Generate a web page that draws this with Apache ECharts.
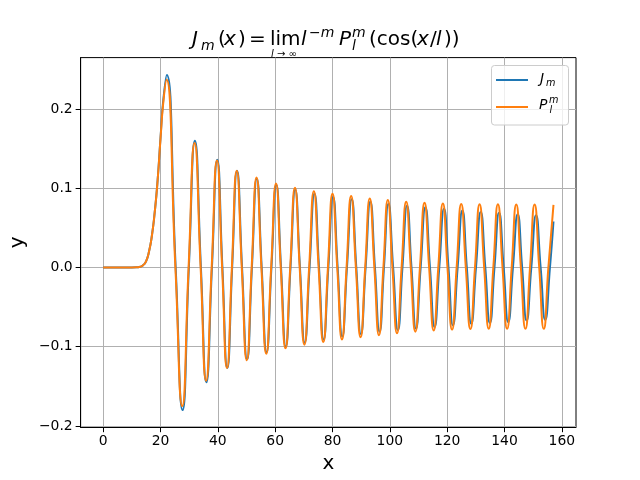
<!DOCTYPE html>
<html>
<head>
<meta charset="utf-8">
<script src="https://cdn.jsdelivr.net/npm/echarts@6/dist/echarts.min.js"></script>
<style>
html,body{margin:0;padding:0;background:#fff;}
#main{width:640px;height:480px;}
</style>
</head>
<body>
<div id="main"></div>
<script>
// J_m : rise from zero, then peaks / troughs / zero crossings
var jRestX = [0, 6, 10, 12, 13, 14, 15, 16, 17, 18, 19, 20, 21, 157.08];
var jRestY = [0, 0, 0, 0.0003, 0.001, 0.003, 0.008, 0.02, 0.04, 0.07, 0.11, 0.163, 0.212, 0.058];
var jPeakX = [22.2, 32.0, 39.8, 46.7, 53.6, 60.4, 67.0, 73.7, 80.2, 86.7, 93.2, 99.5, 106.0, 112.4, 118.9, 125.3, 131.7, 138.1, 144.6, 151.0];
var jPeakY = [0.243, 0.160, 0.136, 0.122, 0.112, 0.104, 0.098, 0.093, 0.089, 0.086, 0.083, 0.080, 0.078, 0.076, 0.074, 0.072, 0.070, 0.069, 0.067, 0.066];
var jTroughX = [27.7, 36.0, 43.3, 50.2, 57.0, 63.7, 70.3, 76.9, 83.4, 89.9, 96.4, 102.8, 109.1, 115.6, 122.0, 128.4, 134.9, 141.3, 147.7, 154.2];
var jTroughY = [-0.180, -0.145, -0.127, -0.116, -0.107, -0.100, -0.095, -0.091, -0.087, -0.084, -0.081, -0.079, -0.077, -0.075, -0.073, -0.071, -0.070, -0.069, -0.067, -0.066];
var jZeroX = [25.3, 29.9, 34.1, 37.95, 41.6, 45.0, 48.45, 51.9, 55.3, 58.7, 62.05, 65.35, 68.65, 72.0, 75.3, 78.55, 81.8, 85.05, 88.3, 91.55, 94.8, 97.95, 101.15, 104.4, 107.55, 110.75, 114.0, 117.25, 120.45, 123.65, 126.85, 130.05, 133.3, 136.5, 139.7, 142.95, 146.15, 149.35, 152.6, 155.85];

// P_l^m : same readings for the orange curve
var pRestX = [0, 6, 10, 12, 13, 14, 15, 16, 17, 18, 19, 20, 21, 157.08];
var pRestY = [0, 0, 0, 0.0003, 0.001, 0.003, 0.008, 0.02, 0.04, 0.07, 0.11, 0.162, 0.209, 0.079];
var pPeakX = [22.1, 31.9, 39.7, 46.6, 53.5, 60.3, 66.9, 73.5, 80.0, 86.5, 93.0, 99.3, 105.7, 112.1, 118.5, 124.9, 131.3, 137.7, 144.1, 150.5];
var pPeakY = [0.237, 0.157, 0.135, 0.122, 0.1135, 0.106, 0.1005, 0.096, 0.093, 0.090, 0.087, 0.085, 0.083, 0.0815, 0.0806, 0.0800, 0.0797, 0.0797, 0.0795, 0.0795];
var pTroughX = [27.6, 35.9, 43.2, 50.1, 56.9, 63.6, 70.2, 76.8, 83.3, 89.8, 96.2, 102.5, 108.9, 115.3, 121.7, 128.1, 134.5, 140.9, 147.3, 153.7];
var pTroughY = [-0.175, -0.143, -0.127, -0.117, -0.109, -0.102, -0.0975, -0.094, -0.091, -0.088, -0.0855, -0.083, -0.081, -0.0795, -0.0785, -0.0778, -0.0775, -0.0775, -0.0775, -0.0775];
var pZeroX = [25.2, 29.8, 34.0, 37.85, 41.5, 44.9, 48.35, 51.8, 55.2, 58.6, 61.95, 65.25, 68.55, 71.85, 75.15, 78.4, 81.65, 84.9, 88.15, 91.4, 94.6, 97.75, 100.9, 104.1, 107.3, 110.5, 113.7, 116.9, 120.1, 123.3, 126.5, 129.7, 132.9, 136.1, 139.3, 142.5, 145.7, 148.9, 152.1, 155.3];

var xTicks = [0, 20, 40, 60, 80, 100, 120, 140, 160];
var yTicks = [-0.2, -0.1, 0, 0.1, 0.2];

var FONT = 'DejaVu Sans';

function pairs(xs, ys) {
	var out = [];
	for (var i = 0; i < xs.length; i++) {
		out.push([xs[i], ys == null ? 0 : ys[i]]);
	}
	return out;
}

function buildCurve(restX, restY, peakX, peakY, troughX, troughY, zeroX) {
	var pts = [].concat(pairs(restX, restY), pairs(peakX, peakY), pairs(troughX, troughY), pairs(zeroX, null));
	pts.sort(function(a, b){ return a[0] - b[0]; });
	return pts;
}

var jData = buildCurve(jRestX, jRestY, jPeakX, jPeakY, jTroughX, jTroughY, jZeroX);
var pData = buildCurve(pRestX, pRestY, pPeakX, pPeakY, pTroughX, pTroughY, pZeroX);

// text piece placed by its left edge and baseline
function piece(str, x, baseline, size, italic) {
	return {
		type: 'text',
		x: x,
		y: baseline - 0.346 * size,
		z: 100,
		silent: true,
		style: {
			text: str,
			fill: '#000',
			font: (italic ? 'italic ' : '') + size + 'px "' + FONT + '"',
			align: 'left',
			verticalAlign: 'middle'
		}
	};
}

var titlePieces = [
	piece('J', 192, 46.7, 20, true),
	piece('m', 201, 51, 14, true),
	piece('(', 218, 46.7, 20, false),
	piece('x', 224, 46.7, 20, true),
	piece(')', 238, 46.7, 20, false),
	piece('=', 249, 46.7, 20, false),
	piece('lim', 270, 46.7, 20, false),
	piece('l \u2192 \u221e', 271, 58, 10, true),
	piece('l', 301, 46.7, 20, true),
	piece('\u2212m', 309, 38.5, 14, true),
	piece('P', 339, 46.7, 20, true),
	piece('m', 352, 38.5, 14, true),
	piece('l', 352, 51, 14, true),
	piece('(cos(', 369, 46.7, 20, false),
	piece('x', 417, 46.7, 20, true),
	piece('/', 430, 46.7, 20, false),
	piece('l', 436, 46.7, 20, true),
	piece('))', 444, 46.7, 20, false)
];

var legendPieces = [
	{
		type: 'rect', z: 99, silent: true,
		shape: { x: 491.5, y: 65.5, width: 77, height: 59.5, r: 3 },
		style: { fill: 'rgba(255,255,255,0.8)', stroke: '#cccccc', lineWidth: 1 }
	},
	{
		type: 'line', z: 100, silent: true,
		shape: { x1: 496, y1: 80, x2: 528, y2: 80 },
		style: { stroke: '#1f77b4', lineWidth: 2 }
	},
	{
		type: 'line', z: 100, silent: true,
		shape: { x1: 496, y1: 107, x2: 528, y2: 107 },
		style: { stroke: '#ff7f0e', lineWidth: 2 }
	},
	piece('J', 540, 84, 13.9, true),
	piece('m', 546, 87, 9.7, true),
	piece('P', 539, 110.5, 13.9, true),
	piece('m', 549, 104, 9.7, true),
	piece('l', 549.5, 114, 9.7, true)
];

var myChart = echarts.init(document.getElementById('main'));
var option = {
	backgroundColor: '#fff',
	animation: false,
	textStyle: { fontFamily: FONT },
	grid: {
		left: 80, right: 64, top: 57.6, bottom: 52.8,
		show: true, borderColor: '#000', borderWidth: 1,
		backgroundColor: 'transparent'
	},
	xAxis: {
		type: 'value',
		min: -7.854,
		max: 164.934,
		axisLine: { show: true, onZero: false, lineStyle: { color: '#000', width: 1 } },
		axisTick: { show: true, customValues: xTicks, length: 5, lineStyle: { color: '#000', width: 1 } },
		axisLabel: { customValues: xTicks, color: '#000', fontSize: 13.9, fontFamily: FONT, margin: 7 },
		splitLine: { show: true, lineStyle: { color: '#b0b0b0', width: 1 } },
		name: 'x',
		nameLocation: 'middle',
		nameGap: 27,
		nameTextStyle: { color: '#000', fontSize: 20, fontFamily: FONT }
	},
	yAxis: {
		type: 'value',
		min: -0.2016,
		max: 0.2648,
		axisLine: { show: true, onZero: false, lineStyle: { color: '#000', width: 1 } },
		axisTick: { show: true, customValues: yTicks, length: 5, lineStyle: { color: '#000', width: 1 } },
		axisLabel: {
			customValues: yTicks, color: '#000', fontSize: 13.9, fontFamily: FONT, margin: 8,
			formatter: function(v){ return v.toFixed(1).replace('-', '\u2212'); }
		},
		splitLine: { show: true, lineStyle: { color: '#b0b0b0', width: 1 } },
		name: 'y',
		nameLocation: 'middle',
		nameGap: 50,
		nameTextStyle: { color: '#000', fontSize: 20, fontFamily: FONT }
	},
	series: [
		{
			name: 'J_m', type: 'line', data: jData,
			showSymbol: false, smooth: 0.55, silent: true,
			lineStyle: { color: '#1f77b4', width: 2 },
			itemStyle: { color: '#1f77b4' }
		},
		{
			name: 'P_l^m', type: 'line', data: pData,
			showSymbol: false, smooth: 0.55, silent: true,
			lineStyle: { color: '#ff7f0e', width: 2 },
			itemStyle: { color: '#ff7f0e' }
		}
	],
	graphic: titlePieces.concat(legendPieces)
};
myChart.setOption(option);
</script>
</body>
</html>
